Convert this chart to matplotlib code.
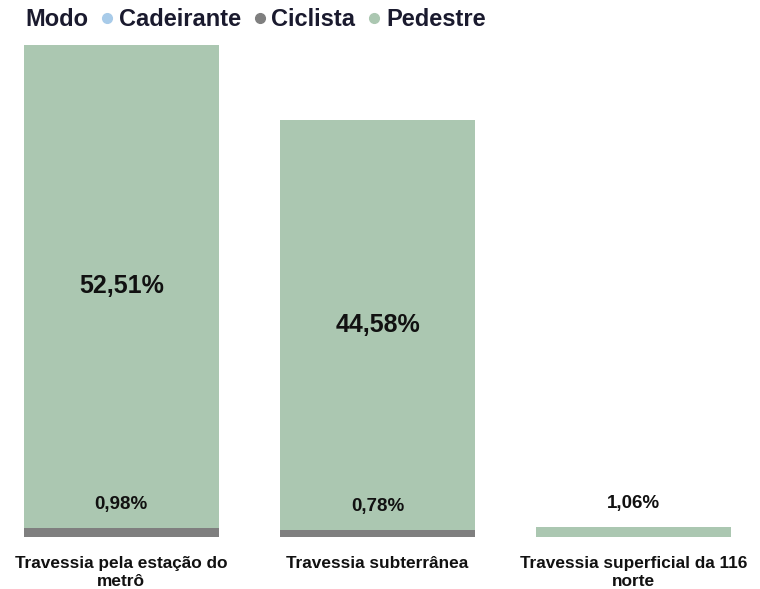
import matplotlib
matplotlib.use("Agg")
import matplotlib.pyplot as plt
from matplotlib.lines import Line2D

categories = ["Travessia pela estação do\nmetrô", "Travessia subterrânea", "Travessia superficial da 116\nnorte"]
series_names = ["Cadeirante", "Ciclista", "Pedestre"]
cadeirante = [0.0, 0.0, 0.0]
ciclista = [0.98, 0.78, 0.0]
pedestre = [52.51, 44.58, 1.06]

colors = {"Cadeirante": "#a8cbe9", "Ciclista": "#7f7f7f", "Pedestre": "#abc7b1"}
plt.rcParams['font.family'] = ['Liberation Sans', 'DejaVu Sans']

fig = plt.figure(figsize=(7.6, 5.89), dpi=100)
ax = fig.add_axes([6/760, (589-537)/589, (749-6)/760, 492/589])

x = list(range(len(categories)))
w = 0.76
bottom = [0.0]*3
for name, vals in zip(series_names, [cadeirante, ciclista, pedestre]):
    ax.bar(x, vals, width=w, bottom=bottom, color=colors[name], linewidth=0)
    for i, v in enumerate(vals):
        if v <= 0:
            continue
        lab = f"{v:.2f}".replace(".", ",") + "%"
        top = bottom[i] + v
        if v > 5:
            ax.text(x[i], bottom[i] + v/2, lab, ha="center", va="center",
                    fontsize=18, fontweight="bold", color="#111111")
        else:
            ax.annotate(lab, (x[i], top), xytext=(0, 17), textcoords="offset points",
                        ha="center", va="center", fontsize=13.5, fontweight="bold", color="#111111")
    bottom = [b + v for b, v in zip(bottom, vals)]

ax.set_xlim(-0.45, 2.45)
ax.set_ylim(0, max(bottom))
ax.set_xticks(x)
ax.set_xticklabels(categories, fontsize=12.4, fontweight="bold", color="#111111", linespacing=1.2)
ax.tick_params(axis="x", length=0, pad=14)
ax.set_yticks([])
for s in ax.spines.values():
    s.set_visible(False)

fig.text(25/760, 1 - 20/589, "Modo", fontsize=17, fontweight="bold", color="#1a1a2e", va="center", ha="left")
handles = [Line2D([0], [0], marker="o", linestyle="", markersize=7, markerfacecolor=colors[n],
                  markeredgecolor=colors[n]) for n in series_names]
leg = fig.legend(handles, series_names, loc="center left", bbox_to_anchor=(95/760, 1 - 20/589), ncol=3,
                 frameon=False, handletextpad=0.0, columnspacing=0.3, handlelength=1.0,
                 prop={"size": 17, "weight": "bold"}, borderaxespad=0, borderpad=0)
for t in leg.get_texts():
    t.set_color("#1a1a2e")

fig.savefig("out.png", dpi=100, facecolor="white")
